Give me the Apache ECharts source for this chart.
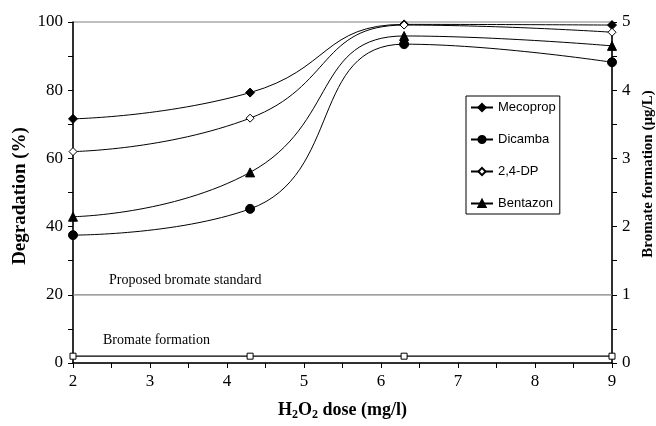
<!DOCTYPE html>
<html>
<head>
<meta charset="utf-8">
<script src="https://cdn.jsdelivr.net/npm/echarts@6/dist/echarts.min.js"></script>
<style>
  html, body { margin: 0; padding: 0; background: #fff; }
  #chart { width: 656px; height: 426px; }
</style>
</head>
<body>
<div id="chart"></div>
<script>
// H2O2 dose (mg/l) at which samples were taken
const doses = [2, 4.3, 6.3, 9];
// Degradation (%) of each herbicide
const mecoprop = [71.6, 79.3, 99.3, 99.1];
const dicamba = [37.5, 45.2, 93.5, 88.2];
const dp24 = [62.0, 71.8, 99.1, 97.0];
const bentazon = [42.9, 55.9, 95.9, 93.0];
// Bromate formation (µg/L), right axis
const bromate = [0.1, 0.1, 0.1, 0.1];
// Proposed bromate standard (µg/L)
const bromateStandard = 1;
const standardSpan = [2, 9];

const serif = '"Liberation Serif", "Times New Roman", serif';
const sans = '"Liberation Sans", Arial, sans-serif';

const pairs = (ys) => doses.map((x, i) => [x, ys[i]]);

function herbicide(name, values, symbol, size, fill) {
  return {
    name: name,
    type: 'line',
    data: pairs(values),
    smooth: 0.5,
    symbol: symbol,
    symbolSize: size,
    lineStyle: { color: '#000', width: 1 },
    itemStyle: { color: fill, borderColor: '#000', borderWidth: 1 },
    emphasis: { disabled: true },
    z: 3
  };
}

const axisText = { fontFamily: serif, fontSize: 17, color: '#000' };

function valueAxis(extra) {
  return Object.assign({
    type: 'value',
    axisLine: { show: true, lineStyle: { color: '#000', width: 1.5 } },
    axisTick: { show: true, length: 5, lineStyle: { color: '#000' } },
    minorTick: { show: true, splitNumber: 2, length: 5, lineStyle: { color: '#000' } },
    splitLine: { show: false },
    axisLabel: Object.assign({ margin: 10 }, axisText)
  }, extra);
}

const chart = echarts.init(document.getElementById('chart'), null, { renderer: 'canvas' });

chart.setOption({
  animation: false,
  backgroundColor: '#fff',
  grid: {
    left: 73, right: 44, top: 22, bottom: 63,
    outerBoundsMode: 'none',
    containLabel: false,
    show: true, borderColor: '#808080', borderWidth: 1
  },
  legend: {
    data: ['Mecoprop', 'Dicamba', '2,4-DP', 'Bentazon'],
    orient: 'vertical',
    left: 466, top: 96,
    padding: [5, 4, 4, 4],
    itemGap: 19,
    itemWidth: 22,
    itemHeight: 9,
    borderColor: '#000', borderWidth: 1,
    backgroundColor: '#fff',
    textStyle: { fontFamily: sans, fontSize: 13, color: '#000' },
    selectedMode: false
  },
  xAxis: valueAxis({
    min: 2, max: 9, interval: 1,
    name: 'H{s|2}O{s|2} dose (mg/l)',
    nameLocation: 'middle',
    nameGap: 37,
    nameTextStyle: {
      fontFamily: serif, fontSize: 18, fontWeight: 'bold', color: '#000',
      rich: { s: { fontFamily: serif, fontSize: 12, fontWeight: 'bold', verticalAlign: 'bottom', padding: [9, 0, 0, 0] } }
    },
    axisLine: { lineStyle: { color: '#000', width: 1.5 } }
  }),
  yAxis: [
    valueAxis({ min: 0, max: 100, interval: 20 }),
    valueAxis({ min: 0, max: 5, interval: 1, position: 'right' })
  ],
  series: [
    {
      name: 'Proposed bromate standard',
      type: 'line',
      yAxisIndex: 1,
      data: standardSpan.map((x) => [x, bromateStandard]),
      symbol: 'none',
      lineStyle: { color: '#808080', width: 1.2 },
      emphasis: { disabled: true },
      z: 1
    },
    {
      name: 'Bromate formation',
      type: 'line',
      yAxisIndex: 1,
      data: pairs(bromate),
      symbol: 'rect',
      symbolSize: 6,
      lineStyle: { color: '#000', width: 1.2 },
      itemStyle: { color: '#fff', borderColor: '#000', borderWidth: 1 },
      emphasis: { disabled: true },
      z: 2
    },
    herbicide('Dicamba', dicamba, 'circle', 9, '#000'),
    herbicide('Bentazon', bentazon, 'triangle', 9, '#000'),
    herbicide('Mecoprop', mecoprop, 'diamond', 9, '#000'),
    herbicide('2,4-DP', dp24, 'diamond', 8, '#fff')
  ],
  graphic: [
    // vertical axis titles
    {
      type: 'text', x: 20, y: 196, rotation: Math.PI / 2,
      style: { text: 'Degradation (%)', font: 'bold 19px ' + serif, fill: '#000', align: 'center', verticalAlign: 'middle' }
    },
    {
      type: 'text', x: 648, y: 174, rotation: Math.PI / 2,
      style: { text: 'Bromate formation (µg/L)', font: 'bold 15px ' + serif, fill: '#000', align: 'center', verticalAlign: 'middle' }
    },
    // annotations inside the plot
    {
      type: 'text', left: 109, top: 273,
      style: { text: 'Proposed bromate standard', font: '14px ' + serif, fill: '#000' }
    },
    {
      type: 'text', left: 103, top: 333,
      style: { text: 'Bromate formation', font: '14px ' + serif, fill: '#000' }
    }
  ]
});
</script>
</body>
</html>
